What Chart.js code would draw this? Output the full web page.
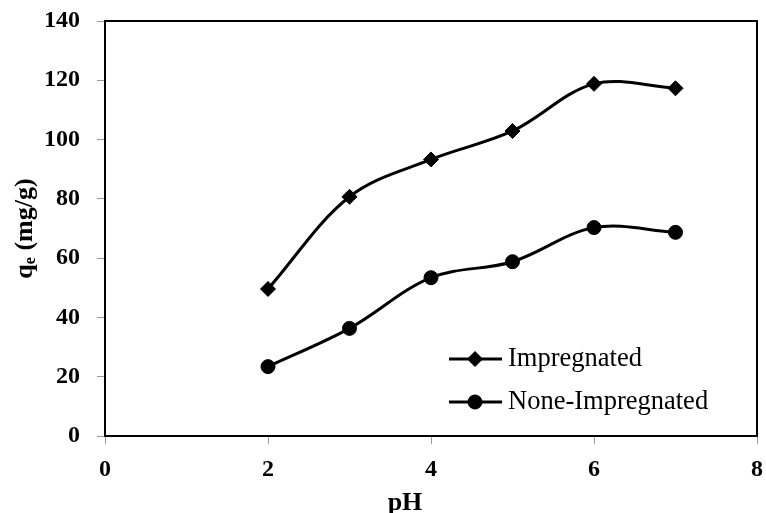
<!DOCTYPE html>
<html>
<head>
<meta charset="utf-8">
<script src="https://cdn.jsdelivr.net/npm/chart.js@4.4.1/dist/chart.umd.min.js"></script>
<style>
  html, body { margin: 0; padding: 0; background: #fff; }
  #wrap { width: 766px; height: 513px; }
</style>
</head>
<body>
<div id="wrap"><canvas id="c" width="766" height="513"></canvas></div>
<script>
// pH values and adsorption capacity q_e (mg/g)
const phValues = [2, 3, 4, 5, 6, 7];
const impregnated = [49.6, 80.7, 93.3, 102.9, 118.8, 117.3];
const noneImpregnated = [23.4, 36.3, 53.4, 58.8, 70.3, 68.7];
const seriesNames = ["Impregnated", "None-Impregnated"];
const xTicks = [0, 2, 4, 6, 8];
const yTicks = [0, 20, 40, 60, 80, 100, 120, 140];

const SERIF = "'Liberation Serif', 'Times New Roman', serif";

const toPoints = (ys) => phValues.map((x, i) => ({ x, y: ys[i] }));

// keep the axis sizes fixed so the plot box lands where it should
const fixSize = (prop, size) => (s) => {
  s[prop] = size;
  s.paddingTop = s.paddingBottom = s.paddingLeft = s.paddingRight = 0;
};

// frame + axis titles + legend drawn over the plot
const extras = {
  id: "extras",
  afterDraw(chart) {
    const { ctx, chartArea: a } = chart;
    ctx.save();
    // box around the plot area
    ctx.strokeStyle = "#000";
    ctx.lineWidth = 2;
    ctx.strokeRect(a.left, a.top, a.right - a.left, a.bottom - a.top);

    // y title: q_e (mg/g), rotated
    ctx.translate(25, (a.top + a.bottom) / 2);
    ctx.rotate(-Math.PI / 2);
    ctx.fillStyle = "#000";
    ctx.textBaseline = "middle";
    const big = "bold 26px " + SERIF;
    const small = "bold 16px " + SERIF;
    ctx.font = big;
    const wq = ctx.measureText("q").width;
    const rest = " (mg/g)";
    const wr = ctx.measureText(rest).width;
    ctx.font = small;
    const we = ctx.measureText("e").width;
    let x0 = -(wq + we + wr) / 2;
    ctx.font = big;
    ctx.textAlign = "left";
    ctx.fillText("q", x0, 0);
    ctx.font = small;
    ctx.fillText("e", x0 + wq, 6);
    ctx.font = big;
    ctx.fillText(rest, x0 + wq + we, 0);
    ctx.restore();

    // x title
    ctx.save();
    ctx.fillStyle = "#000";
    ctx.font = "bold 26px " + SERIF;
    ctx.textAlign = "center";
    ctx.textBaseline = "alphabetic";
    ctx.fillText("pH", 405, 510);
    ctx.restore();

    // legend
    ctx.save();
    const rows = [359, 402];
    chart.data.datasets.forEach((ds, i) => {
      const y = rows[i];
      ctx.strokeStyle = ds.borderColor;
      ctx.lineWidth = ds.borderWidth;
      ctx.beginPath();
      ctx.moveTo(449, y);
      ctx.lineTo(502, y);
      ctx.stroke();
      ctx.fillStyle = ds.pointBackgroundColor;
      ctx.strokeStyle = ds.pointBorderColor;
      ctx.lineWidth = 1;
      Chart.helpers.drawPoint(ctx, { pointStyle: ds.pointStyle, radius: ds.pointRadius, borderWidth: 1 }, 475, y);
      ctx.fillStyle = "#000";
      ctx.font = "26.5px " + SERIF;
      ctx.textAlign = "left";
      ctx.textBaseline = "middle";
      ctx.fillText(ds.label, 508, y);
    });
    ctx.restore();
  }
};

new Chart(document.getElementById("c"), {
  type: "line",
  data: {
    datasets: [
      {
        label: seriesNames[0],
        data: toPoints(impregnated),
        borderColor: "#000",
        borderWidth: 3,
        pointStyle: "rectRot",
        pointRadius: 7.5,
        pointBackgroundColor: "#000",
        pointBorderColor: "#000",
        pointBorderWidth: 1,
        tension: 0.35
      },
      {
        label: seriesNames[1],
        data: toPoints(noneImpregnated),
        borderColor: "#000",
        borderWidth: 3,
        pointStyle: "circle",
        pointRadius: 7,
        pointBackgroundColor: "#000",
        pointBorderColor: "#000",
        pointBorderWidth: 1,
        tension: 0.35
      }
    ]
  },
  options: {
    responsive: false,
    animation: false,
    layout: { padding: { left: 0, top: 21, right: 9, bottom: 0 } },
    plugins: { legend: { display: false }, tooltip: { enabled: false } },
    scales: {
      x: {
        type: "linear",
        min: xTicks[0],
        max: xTicks[xTicks.length - 1],
        afterBuildTicks: (s) => { s.ticks = xTicks.map((v) => ({ value: v })); },
        afterFit: fixSize("height", 77),
        grid: { drawOnChartArea: false, tickLength: 8, tickColor: "#999", tickWidth: 1 },
        border: { color: "#000", width: 2 },
        ticks: { color: "#000", padding: 11, maxRotation: 0, font: { family: SERIF, size: 24, weight: "bold" } }
      },
      y: {
        type: "linear",
        min: yTicks[0],
        max: yTicks[yTicks.length - 1],
        afterBuildTicks: (s) => { s.ticks = yTicks.map((v) => ({ value: v })); },
        afterFit: fixSize("width", 105),
        grid: { drawOnChartArea: false, tickLength: 8, tickColor: "#999", tickWidth: 1 },
        border: { color: "#000", width: 2 },
        ticks: { color: "#000", padding: 17, font: { family: SERIF, size: 24, weight: "bold" } }
      }
    }
  },
  plugins: [extras]
});
</script>
</body>
</html>
